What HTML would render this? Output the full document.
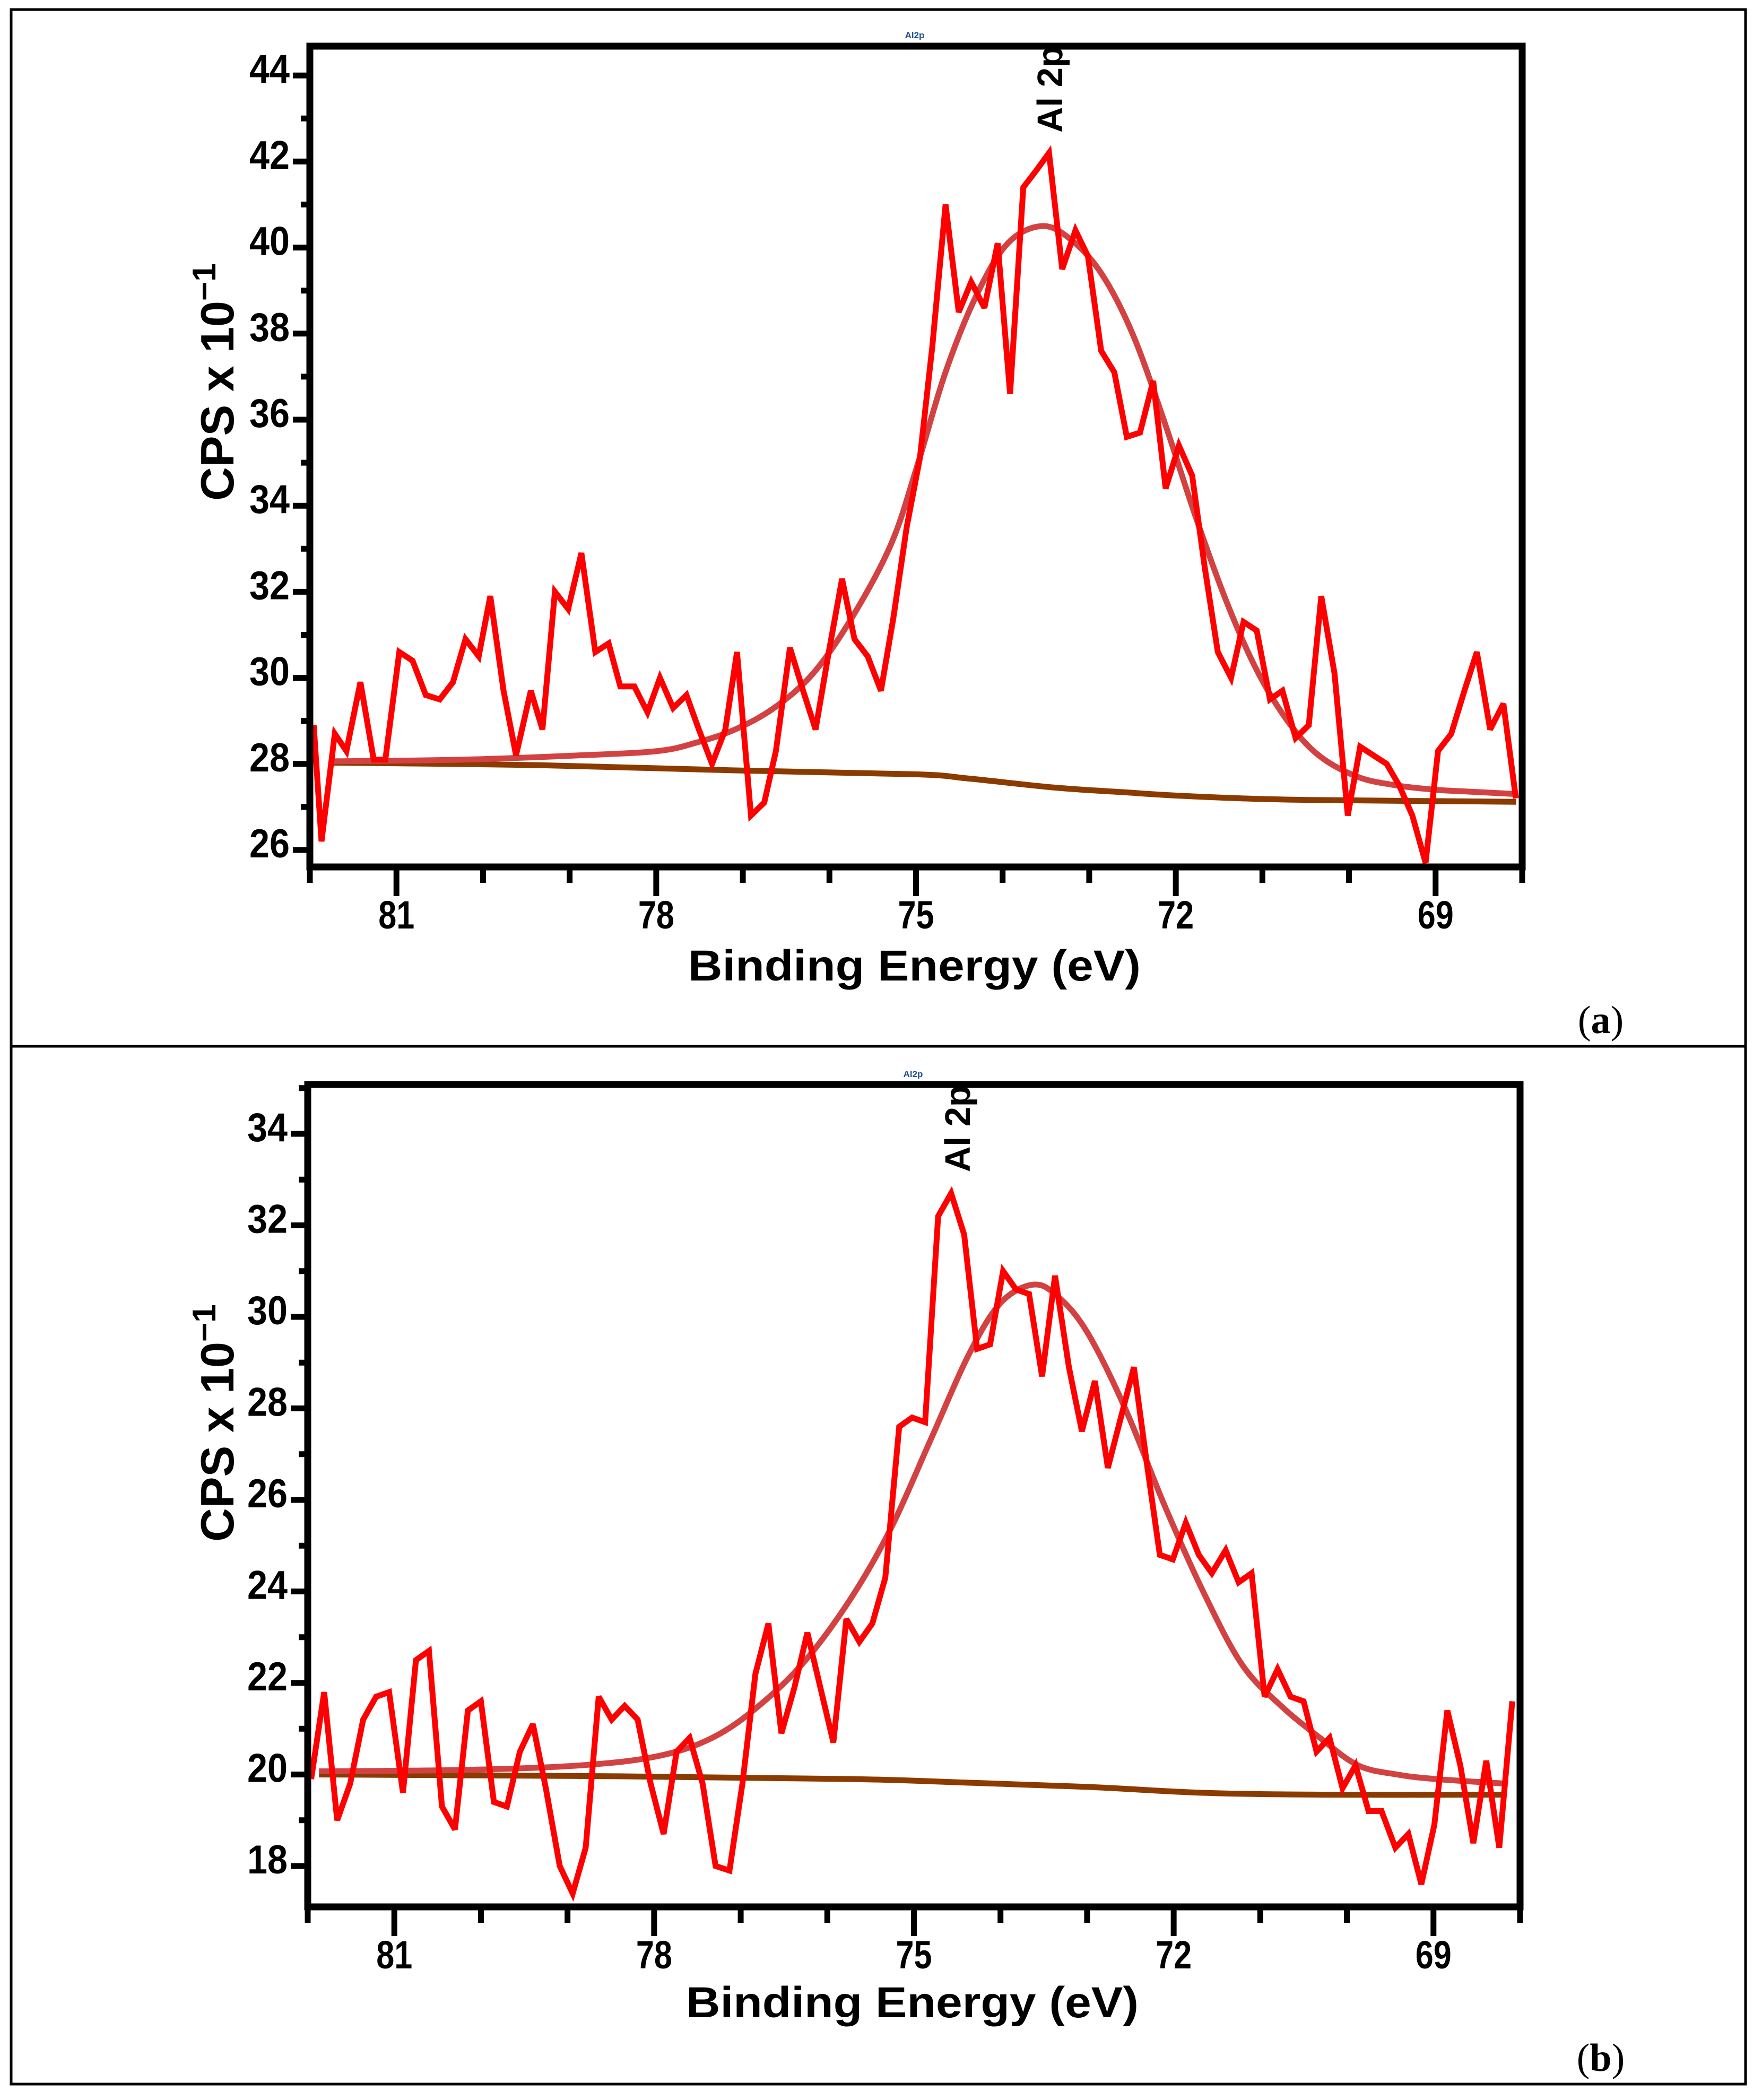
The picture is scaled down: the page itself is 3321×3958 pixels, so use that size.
<!DOCTYPE html>
<html><head><meta charset="utf-8"><title>XPS Al 2p spectra</title>
<style>html,body{margin:0;padding:0;background:#fff}svg{display:block}</style></head>
<body>
<svg id="fig" xmlns="http://www.w3.org/2000/svg" width="3321" height="3958" viewBox="0 0 3321 3958" font-family="'Liberation Sans', Arial, sans-serif">
<rect x="0" y="0" width="3321" height="3958" fill="#fff"/>
<rect x="21" y="18" width="3269" height="3910" fill="none" stroke="#000" stroke-width="5"/>
<line x1="21" y1="1972" x2="3290" y2="1972" stroke="#000" stroke-width="5"/>
<text x="3017" y="1947" font-family="'Liberation Serif', serif" font-size="74" text-anchor="middle">(<tspan font-weight="bold">a</tspan>)</text>
<text x="3017" y="3903" font-family="'Liberation Serif', serif" font-size="74" text-anchor="middle">(<tspan font-weight="bold">b</tspan>)</text>
<g id="panelA"></g>
<g id="panelB"></g>
</svg>
<script>
// ---------- Panel (a) data ----------
const energiesA = [81.955,81.865,81.712,81.578,81.416,81.263,81.128,80.967,80.814,80.661,80.500,80.347,80.203,80.050,79.916,79.763,79.619,79.448,79.314,79.170,79.017,78.864,78.703,78.550,78.415,78.253,78.101,77.957,77.804,77.651,77.508,77.355,77.202,77.067,76.906,76.753,76.618,76.456,76.304,76.160,76.007,75.854,75.711,75.558,75.405,75.261,75.108,74.956,74.812,74.659,74.507,74.363,74.210,74.057,73.914,73.761,73.608,73.464,73.312,73.159,73.015,72.862,72.710,72.566,72.413,72.261,72.117,71.964,71.811,71.668,71.515,71.362,71.218,71.065,70.913,70.769,70.616,70.464,70.320,70.167,70.014,69.871,69.718,69.565,69.421,69.268,69.116,68.972,68.819,68.667,68.523,68.370,68.217,68.073];
const countsA = [28.9,26.2,28.7,28.3,29.9,28.1,28.1,30.6,30.4,29.6,29.5,29.9,30.9,30.5,31.9,29.7,28.2,29.7,28.8,32.0,31.6,32.9,30.6,30.8,29.8,29.8,29.2,30.0,29.3,29.6,28.8,28.0,28.8,30.6,26.8,27.1,28.3,30.7,29.7,28.8,30.6,32.3,30.9,30.5,29.7,31.4,33.5,35.1,37.7,41.0,38.5,39.2,38.6,40.1,36.6,41.4,41.8,42.2,39.5,40.4,39.8,37.6,37.1,35.6,35.7,36.9,34.4,35.4,34.7,32.6,30.6,30.0,31.3,31.1,29.5,29.7,28.6,28.9,31.9,30.1,26.8,28.4,28.2,28.0,27.5,26.8,25.7,28.3,28.7,29.7,30.6,28.8,29.4,27.2];
const envEnergiesA = [81.76,80.23,78.88,77.98,77.53,77.09,76.64,76.19,75.74,75.29,74.99,74.66,74.30,73.94,73.55,73.22,72.86,72.50,72.14,71.78,71.42,71.07,70.71,70.35,69.90,69.45,69.00,68.55,68.07];
const envelopeA = [28.06,28.1,28.2,28.3,28.5,28.8,29.3,30.1,31.4,33.1,34.9,37.1,38.9,40.1,40.5,40.2,39.4,38.0,36.0,33.8,31.8,30.2,29.0,28.2,27.7,27.5,27.4,27.35,27.3];
const bgEnergiesA = [81.76,79.33,77.09,75.02,74.39,73.40,72.59,72.05,71.24,70.35,68.07];
const backgroundA = [28.03,27.97,27.85,27.76,27.66,27.45,27.34,27.27,27.2,27.16,27.12];
const yTicksA = [26,28,30,32,34,36,38,40,42,44];
const yMinorA = [27,29,31,33,35,37,39,41,43];

// ---------- Panel (b) data ----------
const energiesB = [81.96,81.81,81.66,81.51,81.36,81.21,81.06,80.90,80.75,80.60,80.45,80.30,80.15,80.00,79.85,79.70,79.55,79.40,79.25,79.09,78.94,78.79,78.64,78.49,78.34,78.19,78.04,77.89,77.74,77.59,77.44,77.29,77.13,76.98,76.83,76.68,76.53,76.38,76.23,76.08,75.93,75.78,75.63,75.48,75.33,75.17,75.02,74.87,74.72,74.57,74.42,74.27,74.12,73.97,73.82,73.67,73.52,73.37,73.21,73.06,72.91,72.76,72.61,72.46,72.31,72.16,72.01,71.86,71.71,71.56,71.40,71.25,71.10,70.95,70.80,70.65,70.50,70.35,70.20,70.05,69.90,69.75,69.60,69.44,69.29,69.14,68.99,68.84,68.69,68.54,68.39,68.24,68.09];
const countsB = [19.9,21.8,19.0,19.8,21.2,21.7,21.8,19.6,22.5,22.7,19.3,18.8,21.4,21.6,19.4,19.3,20.5,21.1,19.7,18.0,17.4,18.4,21.7,21.2,21.5,21.2,19.8,18.7,20.5,20.8,19.8,18.0,17.9,19.8,22.2,23.3,20.9,21.9,23.1,21.9,20.7,23.4,22.9,23.3,24.3,27.6,27.8,27.7,32.2,32.7,31.8,29.3,29.4,31.0,30.6,30.5,28.7,30.9,28.9,27.5,28.6,26.7,27.8,28.9,26.8,24.8,24.7,25.5,24.8,24.4,24.9,24.2,24.4,21.7,22.3,21.7,21.6,20.5,20.8,19.7,20.2,19.2,19.2,18.4,18.7,17.6,18.9,21.4,20.2,18.5,20.3,18.4,21.6];
const envEnergiesB = [81.87,80.20,78.85,77.96,77.33,76.79,76.25,75.71,75.26,74.81,74.36,74.00,73.64,73.37,73.01,72.56,72.11,71.66,71.21,70.76,70.31,69.87,69.42,68.97,68.16];
const envelopeB = [20.07,20.1,20.2,20.4,20.8,21.5,22.5,23.9,25.4,27.3,29.2,30.3,30.7,30.5,29.7,28.0,25.9,24.0,22.4,21.5,20.8,20.2,20.0,19.9,19.8];
const bgEnergiesB = [81.87,78.40,75.71,74.36,73.01,71.66,70.31,68.16];
const backgroundB = [20.0,19.96,19.9,19.82,19.73,19.6,19.56,19.56];
const yTicksB = [18,20,22,24,26,28,30,32,34];
const yMinorB = [19,21,23,25,27,29,31,33,35];

const xMajor = [81,78,75,72,69];
const xMinor = [82,80,79,77,76,74,73,71,70,68];

const NS = 'http://www.w3.org/2000/svg';
function mk(parent, tag, attrs, text) {
  const e = document.createElementNS(NS, tag);
  for (const k in attrs) e.setAttribute(k, attrs[k]);
  if (text !== undefined) e.textContent = text;
  parent.appendChild(e);
  return e;
}
function smoothPath(pts) {
  let d = 'M' + pts[0][0].toFixed(1) + ',' + pts[0][1].toFixed(1);
  for (let i = 0; i < pts.length - 1; i++) {
    const p0 = pts[i - 1] || pts[i], p1 = pts[i], p2 = pts[i + 1], p3 = pts[i + 2] || p2;
    const c1x = p1[0] + (p2[0] - p0[0]) / 6, c1y = p1[1] + (p2[1] - p0[1]) / 6;
    const c2x = p2[0] - (p3[0] - p1[0]) / 6, c2y = p2[1] - (p3[1] - p1[1]) / 6;
    d += ' C' + c1x.toFixed(1) + ',' + c1y.toFixed(1) + ' ' + c2x.toFixed(1) + ',' + c2y.toFixed(1) + ' ' + p2[0].toFixed(1) + ',' + p2[1].toFixed(1);
  }
  return d;
}

function drawPanel(cfg) {
  const g = document.getElementById(cfg.id);
  const L = cfg.left, R = cfg.right, T = cfg.top, B = cfg.bottom;
  const xS = e => L + (82 - e) * (R - L) / 14;
  const yS = v => cfg.y0px - (v - cfg.y0) * cfg.pxPerUnit;

  const clipId = cfg.id + '-clip';
  const defs = mk(g, 'defs', {});
  const cp = mk(defs, 'clipPath', {id: clipId});
  mk(cp, 'rect', {x: L, y: T, width: R - L, height: B - T});

  const small = mk(g, 'text', {x: cfg.titleX, y: cfg.titleY, 'font-size': 17, 'font-weight': 'bold', fill: '#1f4f8f', 'text-anchor': 'middle'}, 'Al2p');
  
  

  const bgPts = cfg.bgE.map((e, i) => [xS(e), yS(cfg.bg[i])]);
  const bgPath = mk(g, 'path', {d: smoothPath(bgPts), fill: 'none', stroke: '#8b3a00', 'stroke-width': 11, 'clip-path': 'url(#' + clipId + ')'});
  
  

  const envPts = cfg.envE.map((e, i) => [xS(e), yS(cfg.env[i])]);
  const envPath = mk(g, 'path', {d: smoothPath(envPts), fill: 'none', stroke: '#d24242', 'stroke-width': 11, 'clip-path': 'url(#' + clipId + ')'});
  
  

  const n = Math.min(cfg.E.length, cfg.counts.length);
  const pts = cfg.E.slice(0, n).map((e, i) => xS(e).toFixed(1) + ',' + yS(cfg.counts[i]).toFixed(1)).join(' ');
  const line = mk(g, 'polyline', {points: pts, fill: 'none', stroke: '#ff0000', 'stroke-width': 11, 'stroke-linejoin': 'miter', 'stroke-miterlimit': 3, 'clip-path': 'url(#' + clipId + ')'});
  
  

  const frame = mk(g, 'rect', {x: L, y: T, width: R - L, height: B - T, fill: 'none', stroke: '#000', 'stroke-width': 13});
  
  

  cfg.yTicks.forEach(v => {
    const y = yS(v);
    const t = mk(g, 'line', {x1: L - 32, y1: y, x2: L, y2: y, stroke: '#000', 'stroke-width': 11});
    
    
    const lb = mk(g, 'text', {x: L - 38, y: y + 14, 'font-size': 76, 'font-weight': 'bold', 'text-anchor': 'end', textLength: 76, lengthAdjust: 'spacingAndGlyphs'}, String(v));
    
    
  });
  cfg.yMinor.forEach(v => {
    const y = yS(v);
    if (y < T - 8 || y > B + 8) return;
    const t = mk(g, 'line', {x1: L - 17, y1: y, x2: L, y2: y, stroke: '#000', 'stroke-width': 11});
    
    
  });
  xMajor.forEach(e => {
    const x = xS(e);
    const t = mk(g, 'line', {x1: x, y1: B, x2: x, y2: B + 55, stroke: '#000', 'stroke-width': 11});
    
    
    const lb = mk(g, 'text', {x: x, y: B + 116, 'font-size': 74, 'font-weight': 'bold', 'text-anchor': 'middle', textLength: 68, lengthAdjust: 'spacingAndGlyphs'}, String(e));
    
    
  });
  xMinor.forEach(e => {
    const x = xS(e);
    const t = mk(g, 'line', {x1: x, y1: B, x2: x, y2: B + 30, stroke: '#000', 'stroke-width': 11});
    
    
  });

  const xt = mk(g, 'text', {x: (L + R) / 2 - 3, y: cfg.xTitleY, 'font-size': 82, 'font-weight': 'bold', 'text-anchor': 'middle', textLength: 853, lengthAdjust: 'spacingAndGlyphs'}, 'Binding Energy (eV)');
  
  

  const yt = mk(g, 'text', {transform: 'translate(440,' + cfg.yTitleC + ') rotate(-90)', 'font-size': 88, 'font-weight': 'bold', 'text-anchor': 'middle'});
  
  
  mk(yt, 'tspan', {}, 'CPS x 10');
  mk(yt, 'tspan', {'font-size': 62, dy: -34}, '\u22121');

  const wrap = mk(g, 'g', {'clip-path': 'url(#' + clipId + ')'});
  const pk = mk(wrap, 'text', {transform: 'translate(' + cfg.peakX + ',' + cfg.peakY + ') rotate(-90)', 'font-size': 67, 'font-weight': 'bold'}, 'Al 2p');
  
  
}

drawPanel({id: 'panelA', left: 584, right: 2869, top: 87, bottom: 1634,
  y0: 26, y0px: 1602, pxPerUnit: 81.1,
  E: energiesA, counts: countsA, envE: envEnergiesA, env: envelopeA, bgE: bgEnergiesA, bg: backgroundA,
  yTicks: yTicksA, yMinor: yMinorA, xTitleY: 1848, yTitleC: 720,
  titleX: 1724, titleY: 72, peakX: 2002, peakY: 250});
drawPanel({id: 'panelB', left: 580, right: 2865, top: 2044, bottom: 3594,
  y0: 18, y0px: 3517, pxPerUnit: 86.25,
  E: energiesB, counts: countsB, envE: envEnergiesB, env: envelopeB, bgE: bgEnergiesB, bg: backgroundB,
  yTicks: yTicksB, yMinor: yMinorB, xTitleY: 3802, yTitleC: 2682,
  titleX: 1721, titleY: 2030, peakX: 1828, peakY: 2209});
</script>
</body></html>
